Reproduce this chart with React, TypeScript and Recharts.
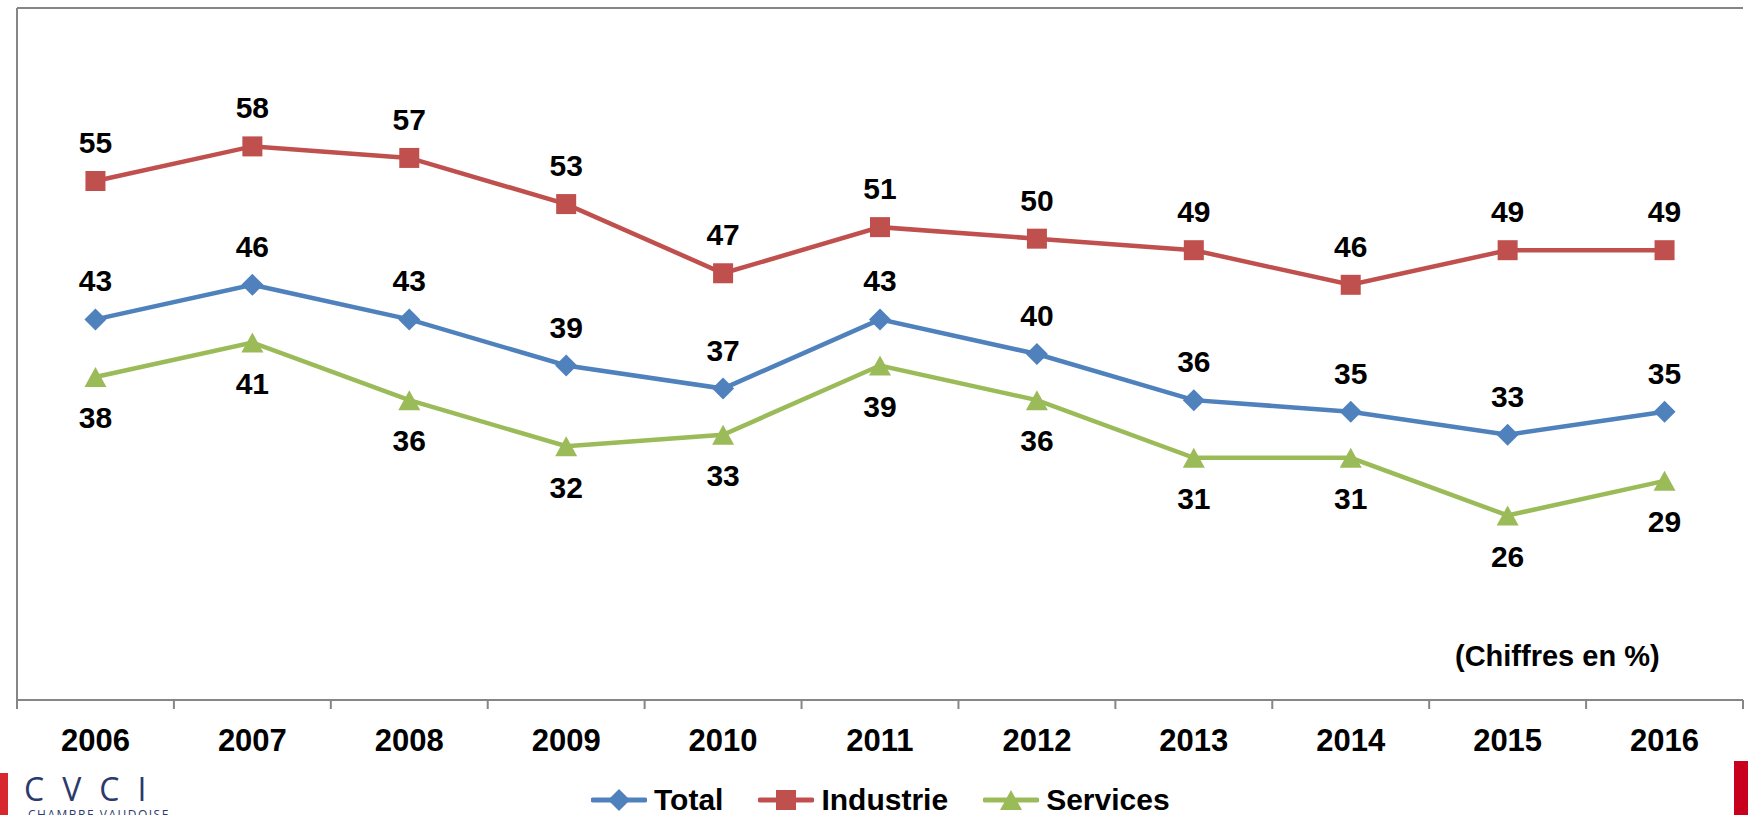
import React from "react";
import {
  LineChart,
  Line,
  XAxis,
  YAxis,
  CartesianGrid,
  Legend,
} from "recharts";

const years = ["2006", "2007", "2008", "2009", "2010", "2011", "2012", "2013", "2014", "2015", "2016"];
const total = [43, 46, 43, 39, 37, 43, 40, 36, 35, 33, 35];
const industrie = [55, 58, 57, 53, 47, 51, 50, 49, 46, 49, 49];
const services = [38, 41, 36, 32, 33, 39, 36, 31, 31, 26, 29];
const seriesNames = ["Total", "Industrie", "Services"];
const yTicks = [10, 20, 30, 40, 50, 60, 70];

const data = years.map((year, i) => ({
  year,
  Total: total[i],
  Industrie: industrie[i],
  Services: services[i],
}));

const W = 1748;
const H = 815;
const MARGIN = { top: 8, right: 5, left: 0, bottom: 0 };
const Y_WIDTH = 17;
const X_HEIGHT = 115;
const BAND = (W - MARGIN.left - MARGIN.right - Y_WIDTH) / years.length;

const FONT = "'Liberation Sans', Arial, Helvetica, sans-serif";
const GRID = "#868686";
const COLORS: Record<string, string> = {
  Total: "#4F81BD",
  Industrie: "#C0504D",
  Services: "#9BBB59",
};

function Marker({ kind, cx, cy, color }: { kind: string; cx: number; cy: number; color: string }) {
  if (kind === "Industrie") {
    return <rect x={cx - 10} y={cy - 10} width={20} height={20} fill={color} />;
  }
  if (kind === "Services") {
    return <polygon points={`${cx},${cy - 10} ${cx + 11},${cy + 10} ${cx - 11},${cy + 10}`} fill={color} />;
  }
  return <polygon points={`${cx},${cy - 11} ${cx + 11},${cy} ${cx},${cy + 11} ${cx - 11},${cy}`} fill={color} />;
}

const makeDot = (kind: string) => (props: any) => {
  const { cx, cy, index } = props;
  if (cx == null || cy == null) return <g key={index} />;
  return <Marker key={index} kind={kind} cx={cx} cy={cy} color={COLORS[kind]} />;
};

function YearTick(props: any) {
  const { x, y, payload, index } = props;
  const last = index === years.length - 1;
  return (
    <g>
      <line x1={x - BAND / 2} x2={x - BAND / 2} y1={y} y2={y + 9} stroke={GRID} strokeWidth={2} />
      {last && <line x1={x + BAND / 2} x2={x + BAND / 2} y1={y} y2={y + 9} stroke={GRID} strokeWidth={2} />}
      <text x={x} y={y + 40} dy="0.36em" textAnchor="middle" fontSize={31} fontWeight="bold" fontFamily={FONT} fill="#000">
        {payload.value}
      </text>
    </g>
  );
}

function LegendContent() {
  return (
    <div style={{ display: "flex", alignItems: "center", fontFamily: FONT, fontWeight: "bold", fontSize: 30, color: "#000", lineHeight: "30px" }}>
      {seriesNames.map((name) => (
        <div key={name} style={{ display: "flex", alignItems: "center", marginRight: 35 }}>
          <svg width={56} height={24} style={{ marginRight: 7 }}>
            <line x1={2} x2={54} y1={12} y2={12} stroke={COLORS[name]} strokeWidth={5} strokeLinecap="round" />
            <Marker kind={name} cx={28} cy={12} color={COLORS[name]} />
          </svg>
          <span>{name}</span>
        </div>
      ))}
    </div>
  );
}

export default function App() {
  return (
    <div style={{ position: "absolute", left: 0, top: 0, width: W, height: H, background: "#fff", overflow: "hidden" }}>
      <LineChart width={W} height={H} data={data} margin={MARGIN}>
        <CartesianGrid vertical={false} stroke={GRID} strokeWidth={2} />
        <XAxis
          dataKey="year"
          height={X_HEIGHT}
          axisLine={{ stroke: GRID, strokeWidth: 2 }}
          tickLine={false}
          tickSize={0}
          tickMargin={0}
          tick={<YearTick />}
          interval={0}
          padding={{ left: BAND / 2, right: BAND / 2 }}
        />
        <YAxis
          width={Y_WIDTH}
          domain={[10, 70]}
          ticks={yTicks}
          tick={false}
          tickSize={9}
          tickLine={{ stroke: GRID, strokeWidth: 2 }}
          axisLine={{ stroke: GRID, strokeWidth: 2 }}
        />
        <Legend
          layout="horizontal"
          verticalAlign="middle"
          align="center"
          content={<LegendContent />}
          wrapperStyle={{ left: 591, top: 785, width: 560, height: 30 }}
        />
        {seriesNames.map((key) => (
          <Line
            key={key}
            dataKey={key}
            stroke={COLORS[key]}
            strokeWidth={4.5}
            dot={makeDot(key)}
            activeDot={false}
            isAnimationActive={false}
            label={{
              position: key === "Services" ? "bottom" : "top",
              offset: key === "Services" ? 30 : 28,
              fill: "#000",
              fontSize: 30,
              fontWeight: "bold",
              fontFamily: FONT,
            }}
          />
        ))}
      </LineChart>
      <div style={{ position: "absolute", left: 1455, top: 640, fontFamily: FONT, fontWeight: "bold", fontSize: 29, color: "#000", whiteSpace: "nowrap" }}>
        (Chiffres en %)
      </div>
      <div style={{ position: "absolute", left: 0, top: 773, width: 8, height: 42, background: "#D7282F" }} />
      <div style={{ position: "absolute", left: 24, top: 773, fontFamily: "'Open Sans', sans-serif", fontSize: 32, lineHeight: "32px", color: "#2B3A6B", letterSpacing: 18, whiteSpace: "nowrap" }}>
        CVCI
      </div>
      <div style={{ position: "absolute", left: 28, top: 807, fontFamily: "'Open Sans', sans-serif", fontSize: 12, lineHeight: "16px", color: "#2B3A6B", letterSpacing: 1.5, whiteSpace: "nowrap" }}>
        CHAMBRE VAUDOISE
      </div>
      <div style={{ position: "absolute", left: 1734, top: 761, width: 14, height: 54, background: "#C8001E" }} />
    </div>
  );
}
